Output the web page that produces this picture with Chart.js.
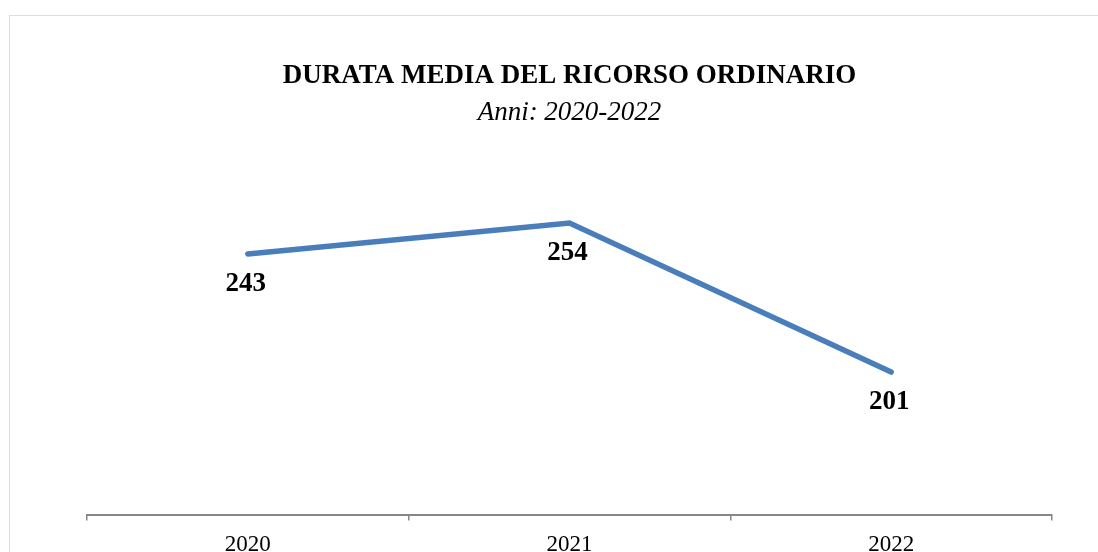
<!DOCTYPE html>
<html>
<head>
<meta charset="utf-8">
<script src="https://cdn.jsdelivr.net/npm/chart.js@4"></script>
<style>
  html, body { margin: 0; padding: 0; overflow: hidden; background: #fff; }
  #frame { position: absolute; left: 9px; top: 15px; width: 1200px; height: 700px; border: 1px solid #dedede; }
  #mainChart { position: absolute; left: 0; top: 0; }
</style>
</head>
<body>
<div id="frame"></div>
<canvas id="mainChart" width="1098" height="573"></canvas>
<script>
const years = ["2020", "2021", "2022"];
const durata = [243, 254, 201];

const serif = "'Liberation Serif', 'Times New Roman', serif";

// value labels under each point, placed from the line's own elements
const valueLabels = {
	id: "valueLabels",
	afterDatasetsDraw(chart) {
		const ctx = chart.ctx;
		const meta = chart.getDatasetMeta(0);
		ctx.save();
		ctx.font = "bold 27px " + serif;
		ctx.fillStyle = "#000";
		ctx.textAlign = "center";
		ctx.textBaseline = "middle";
		meta.data.forEach((pt, i) => {
			ctx.fillText(String(durata[i]), pt.x - 2, pt.y + 30);
		});
		ctx.restore();
	}
};

new Chart("mainChart", {
	type: "line",
	data: {
		labels: years,
		datasets: [{
			data: durata,
			borderColor: "#4a7ebb",
			backgroundColor: "#4a7ebb",
			borderWidth: 5.5,
			borderCapStyle: "round",
			borderJoinStyle: "miter",
			pointRadius: 0,
			tension: 0
		}]
	},
	options: {
		responsive: false,
		animation: false,
		layout: { padding: { left: 87, right: 46, top: 0, bottom: 3 } },
		plugins: {
			legend: { display: false },
			tooltip: { enabled: false },
			title: {
				display: true,
				text: "DURATA MEDIA DEL RICORSO ORDINARIO",
				color: "#000",
				font: { family: serif, size: 27, weight: "bold" },
				padding: { top: 60, bottom: 4 }
			},
			subtitle: {
				display: true,
				text: "Anni: 2020-2022",
				color: "#000",
				font: { family: serif, size: 27, style: "italic", weight: "normal" },
				padding: { top: 0, bottom: 10 }
			}
		},
		scales: {
			x: {
				offset: true,
				grid: {
					display: true,
					offset: true,
					drawOnChartArea: false,
					drawTicks: true,
					tickLength: 5,
					color: "#868686",
					lineWidth: 1.5
				},
				border: { display: true, color: "#868686", width: 2 },
				ticks: {
					color: "#000",
					padding: 11,
					font: { family: serif, size: 23 }
				}
			},
			y: {
				display: false,
				min: 150,
				max: 284
			}
		}
	},
	plugins: [valueLabels]
});
</script>
</body>
</html>
